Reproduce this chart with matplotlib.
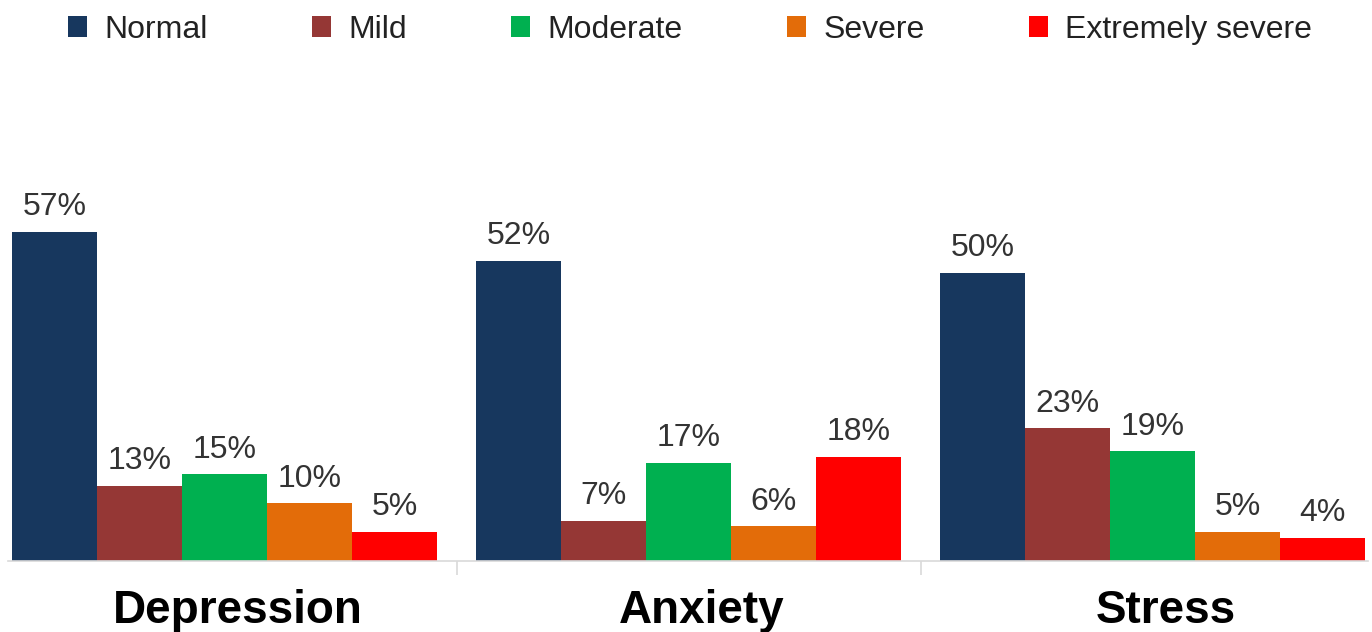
import numpy as np
import matplotlib.pyplot as plt
import matplotlib.transforms as mtransforms

categories = ['Depression', 'Anxiety', 'Stress']
levels = ['Normal', 'Mild', 'Moderate', 'Severe', 'Extremely severe']
normal = [57, 52, 50]
mild = [13, 7, 23]
moderate = [15, 17, 19]
severe = [10, 6, 5]
extremely_severe = [5, 18, 4]

colors = ['#17375E', '#953735', '#00B050', '#E36C09', '#FF0000']


def plot_levels():
    series = [normal, mild, moderate, severe, extremely_severe]
    x = np.arange(len(categories))
    width = 0.183

    fig = plt.figure(figsize=(13.72, 6.32), dpi=100)
    ax = fig.add_axes([8 / 1372, 71 / 632, 1360 / 1372, 461 / 632])

    for i, (vals, name, col) in enumerate(zip(series, levels, colors)):
        pos = x + (i - 2) * width
        bars = ax.bar(pos, vals, width, color=col, label=name)
        for b, v in zip(bars, vals):
            ax.annotate(f'{v}%', (b.get_x() + b.get_width() / 2, v),
                        xytext=(0, 7), textcoords='offset points',
                        ha='center', va='bottom', fontsize=23,
                        color='#333333', family='Liberation Sans')

    ax.set_xlim(-0.4666, 2.464)
    ax.set_ylim(0, 79.9)
    for s in ['top', 'left', 'right']:
        ax.spines[s].set_visible(False)
    ax.spines['bottom'].set_color('#d9d9d9')
    ax.spines['bottom'].set_linewidth(1.2)
    ax.set_yticks([])

    ax.set_xticks(x)
    ax.set_xticklabels(categories, fontsize=33, fontweight='bold',
                       family='Liberation Sans')
    ax.tick_params(axis='x', which='major', length=0, pad=20)
    ax.set_xticks([0.5, 1.5], minor=True)
    ax.tick_params(axis='x', which='minor', length=10, color='#d9d9d9', width=1.2)
    shift = mtransforms.ScaledTranslation(13 / 100, 0, fig.dpi_scale_trans)
    for lbl in ax.get_xticklabels():
        lbl.set_transform(lbl.get_transform() + shift)

    fig.legend(loc='center', bbox_to_anchor=(0.503, 1 - 30 / 632), ncol=5,
               frameon=False, prop={'family': 'Liberation Sans', 'size': 23},
               handlelength=0.6, handleheight=0.65, handletextpad=0.55,
               columnspacing=3.25, labelcolor='#222222')

    fig.savefig('out.png', dpi=100, facecolor='white')


if __name__ == "__main__":
    plot_levels()
